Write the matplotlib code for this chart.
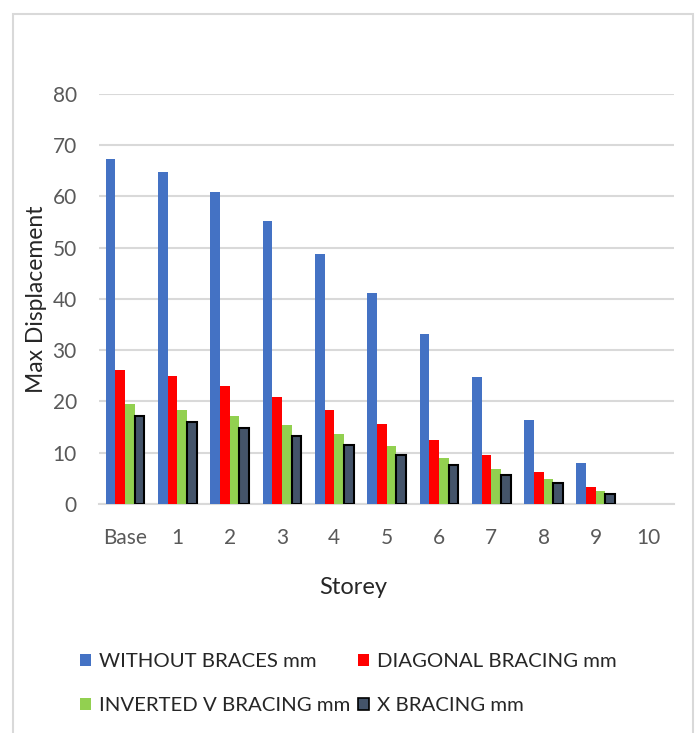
import numpy as np
import matplotlib
matplotlib.use("Agg")
import matplotlib.pyplot as plt
from matplotlib.patches import Patch, Rectangle

plt.rcParams['font.family'] = ['Lato', 'DejaVu Sans']

# storey labels and max displacement (mm) per bracing system
storeys = ["Base", "1", "2", "3", "4", "5", "6", "7", "8", "9", "10"]
without_braces = [67.2, 64.7, 60.8, 55.2, 48.8, 41.2, 33.2, 24.8, 16.3, 7.9, 0]
diagonal = [26.1, 24.9, 23.1, 20.8, 18.3, 15.5, 12.5, 9.6, 6.3, 3.3, 0]
inverted_v = [19.4, 18.4, 17.1, 15.4, 13.6, 11.3, 9.0, 6.8, 4.8, 2.5, 0]
x_bracing = [17.1, 16.0, 14.8, 13.3, 11.5, 9.5, 7.7, 5.7, 4.0, 1.9, 0]

series = [
    ("WITHOUT BRACES mm", without_braces, "#4472C4"),
    ("DIAGONAL BRACING mm", diagonal, "#FF0000"),
    ("INVERTED V BRACING mm", inverted_v, "#92D050"),
    ("X BRACING mm", x_bracing, "#44546A"),
]

fig = plt.figure(figsize=(6.99, 7.33), dpi=100)
ax = fig.add_axes([0.1416, 0.3124, 0.823, 0.5599])

x = np.arange(len(storeys))
w = 0.185
handles = []
for i, (name, vals, col) in enumerate(series):
    vals = np.array(vals)
    m = vals > 0  # storey 10 has no displacement -> no bar
    if name == "X BRACING mm":
        ax.bar(x[m] + (i - 1.5) * w, vals[m], w, color=col, edgecolor="black",
               linewidth=1.5, zorder=3)
        handles.append(Patch(facecolor=col, edgecolor="black", linewidth=1.2, label=name))
    else:
        ax.bar(x[m] + (i - 1.5) * w, vals[m], w, color=col, linewidth=0, zorder=3)
        handles.append(Patch(facecolor=col, label=name))

ax.set_xlim(-0.5, len(storeys) - 0.5)
ax.set_ylim(0, 80)
ax.set_yticks(range(0, 81, 10))
ax.set_xticks(x)
ax.set_xticklabels(storeys)
ax.grid(axis="y", color="#D9D9D9", linewidth=1.5, zorder=0)
for s in ["top", "right", "left"]:
    ax.spines[s].set_visible(False)
ax.spines["bottom"].set_color("#D9D9D9")
ax.spines["bottom"].set_linewidth(1.5)
ax.tick_params(length=0, labelsize=15, labelcolor="#595959")
ax.tick_params(axis="x", pad=17)
ax.tick_params(axis="y", pad=16)
ax.set_xlabel("Storey", fontsize=17, color="#262626", va="center")
ax.xaxis.set_label_coords(0.4417, -0.2045)
ax.set_ylabel("Max Displacement", fontsize=16.5, color="#262626", va="center")
ax.yaxis.set_label_coords(-0.1078, 0.5)

# legend filled row by row like the original
order = [0, 2, 1, 3]
fig.legend(handles=[handles[k] for k in order], ncol=2, loc="upper left",
           bbox_to_anchor=(0.0995, 0.1225), frameon=False, fontsize=14.7,
           handlelength=0.55, handleheight=0.55, handletextpad=0.4,
           columnspacing=0.35, labelspacing=1.3, borderpad=0,
           labelcolor="#262626")

# chart border
fig.patches.append(Rectangle((13 / 699, -0.05), 680 / 699, 1.05 - 14 / 733,
                             transform=fig.transFigure, fill=False,
                             edgecolor="#D9D9D9", linewidth=1.5))

fig.savefig("out.png", dpi=100)
